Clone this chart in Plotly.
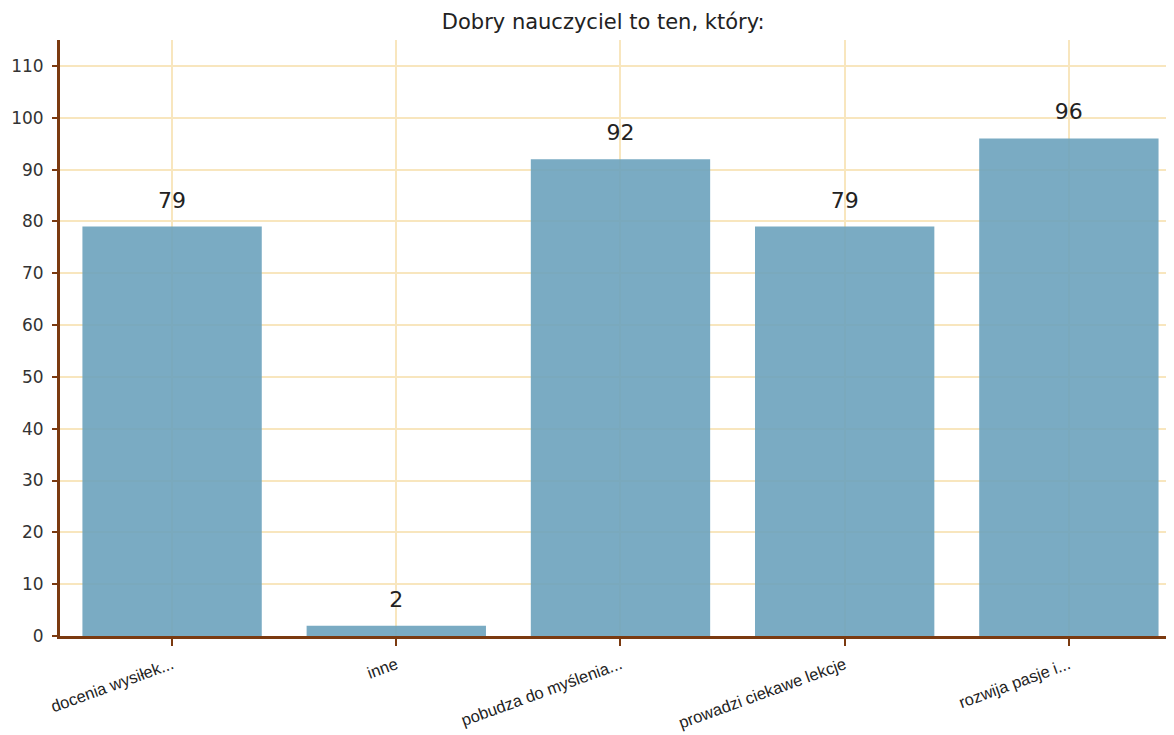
import plotly.graph_objects as go

categories = ["docenia wysiłek...", "inne", "pobudza do myślenia...", "prowadzi ciekawe lekcje", "rozwija pasje i..."]
values = [79, 2, 92, 79, 96]
y_ticks = list(range(0, 111, 10))

brown = "#7B3A10"
grid = "#F8E6BE"

fig = go.Figure()
fig.add_trace(go.Bar(
    x=categories, y=values,
    marker=dict(color="rgba(107,162,189,0.9)", line=dict(width=0)),
    width=0.8, hoverinfo="skip",
))
fig.add_trace(go.Scatter(
    x=categories, y=values, mode="markers+text",
    marker=dict(size=20, opacity=0),
    text=[str(v) for v in values], textposition="top center",
    textfont=dict(family="DejaVu Sans", size=22, color="#222"),
    cliponaxis=False,
))

fig.update_layout(
    width=1174, height=735,
    margin=dict(l=52, r=10, t=32, b=107),
    plot_bgcolor="white", paper_bgcolor="white",
    showlegend=False,
    title=dict(text="Dobry nauczyciel to ten, który:", x=0.507, xanchor="center", y=0.981, yanchor="middle",
               font=dict(family="DejaVu Sans", size=21, color="#222")),
)
fig.update_xaxes(
    range=[-0.5, 4.46], showline=True, linecolor=brown, linewidth=3,
    ticks="outside", tickcolor=brown, ticklen=7, tickwidth=2,
    showgrid=True, gridcolor=grid, gridwidth=2,
    ticklabelstandoff=3, automargin=False,
    tickangle=-20, tickfont=dict(family="Liberation Sans", size=16.5, color="#222"),
)
fig.update_yaxes(
    range=[0, 115], tickvals=y_ticks, showline=True, linecolor=brown, linewidth=3,
    ticks="outside", tickcolor=brown, ticklen=5, tickwidth=2,
    showgrid=True, gridcolor=grid, gridwidth=2, zeroline=False,
    ticklabelstandoff=5, automargin=False,
    tickfont=dict(family="DejaVu Sans", size=17, color="#333"),
)

fig.write_html("out.html")
